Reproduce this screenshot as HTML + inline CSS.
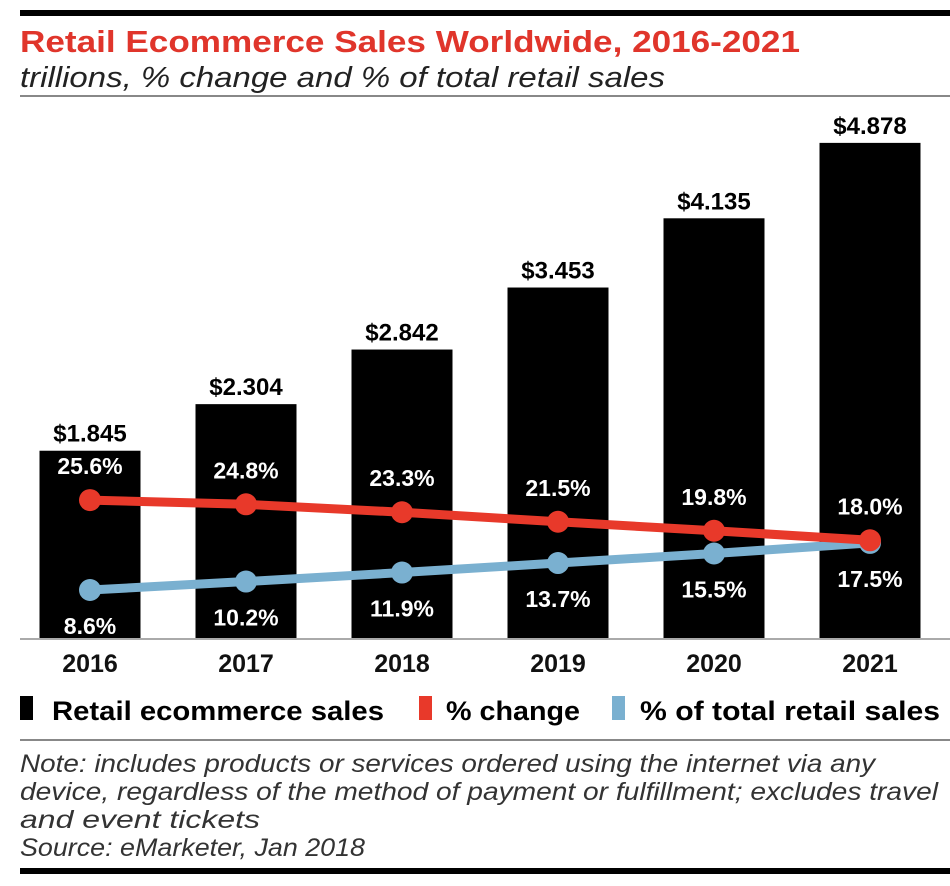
<!DOCTYPE html>
<html><head><meta charset="utf-8"><style>
html,body{margin:0;padding:0;background:#fff;width:950px;height:886px;overflow:hidden}
svg{display:block}
text{font-family:"Liberation Sans Narrow","Liberation Sans",sans-serif}
</style></head><body>
<svg id="chart" width="950" height="886" viewBox="0 0 950 886">
<rect x="20" y="10" width="930" height="6" fill="#000"/>
<text x="20" y="52" font-size="31" font-weight="bold" fill="#e0352b" textLength="780" lengthAdjust="spacingAndGlyphs">Retail Ecommerce Sales Worldwide, 2016-2021</text>
<text x="20" y="87" font-size="29" font-style="italic" fill="#222" textLength="645" lengthAdjust="spacingAndGlyphs">trillions, % change and % of total retail sales</text>
<rect x="20" y="95" width="930" height="2" fill="#888"/>
<g id="bars"></g><g id="lines"></g><g id="labels"></g>
<rect x="20" y="638" width="930" height="2" fill="#aaa"/>
<g>
<rect x="20" y="696" width="13" height="24" fill="#000"/>
<text x="52" y="720" font-size="27" font-weight="bold" textLength="332" lengthAdjust="spacingAndGlyphs">Retail ecommerce sales</text>
<rect x="419" y="696" width="13" height="24" fill="#e8392a"/>
<text x="446" y="720" font-size="27" font-weight="bold" textLength="134" lengthAdjust="spacingAndGlyphs">% change</text>
<rect x="612" y="696" width="13" height="24" fill="#7ab0d0"/>
<text x="640" y="720" font-size="27" font-weight="bold" textLength="300" lengthAdjust="spacingAndGlyphs">% of total retail sales</text>
</g>
<rect x="20" y="739" width="930" height="2" fill="#888"/>
<g font-size="25" font-style="italic" fill="#333">
<text x="20" y="772" textLength="855" lengthAdjust="spacingAndGlyphs">Note: includes products or services ordered using the internet via any</text>
<text x="20" y="800" textLength="918" lengthAdjust="spacingAndGlyphs">device, regardless of the method of payment or fulfillment; excludes travel</text>
<text x="20" y="828" textLength="240" lengthAdjust="spacingAndGlyphs">and event tickets</text>
<text x="20" y="856" textLength="345" lengthAdjust="spacingAndGlyphs">Source: eMarketer, Jan 2018</text>
</g>
<rect x="20" y="868" width="930" height="6" fill="#000"/>
</svg>
<script>
const years = ["2016","2017","2018","2019","2020","2021"];
const sales = [1.845, 2.304, 2.842, 3.453, 4.135, 4.878];
const pctChange = [25.6, 24.8, 23.3, 21.5, 19.8, 18.0];
const pctTotal = [8.6, 10.2, 11.9, 13.7, 15.5, 17.5];

const NS = "http://www.w3.org/2000/svg";
const base = 638, step = 156, x0 = 90, barW = 101;
const xPos = i => x0 + i * step;
const yBar = v => base - v * 101.5;
const yPct = v => 635.5 - v * 5.29;
function mk(tag, attrs, parent) {
  const e = document.createElementNS(NS, tag);
  for (const k in attrs) e.setAttribute(k, attrs[k]);
  parent.appendChild(e); return e;
}
const gB = document.getElementById('bars'), gL = document.getElementById('lines'), gT = document.getElementById('labels');
sales.forEach((v, i) => {
  const r = mk('rect', {x: xPos(i) - barW/2, y: yBar(v), width: barW, height: base - yBar(v), fill: '#000'}, gB);
  
  
  const t = mk('text', {x: xPos(i), y: yBar(v) - 9, 'text-anchor': 'middle', 'font-size': 24, 'font-weight': 'bold', fill: '#000'}, gT);
  t.textContent = '$' + v.toFixed(3);
  
  
  const y = mk('text', {x: xPos(i), y: 672, 'text-anchor': 'middle', 'font-size': 25, 'font-weight': 'bold', fill: '#111'}, gT);
  y.textContent = years[i];
  
  
});
function series(vals, color, name, dy) {
  const pl = mk('polyline', {points: vals.map((v, i) => xPos(i) + ',' + yPct(v)).join(' '), fill: 'none', stroke: color, 'stroke-width': 9}, gL);
  
  
  vals.forEach((v, i) => {
    const c = mk('circle', {cx: xPos(i), cy: yPct(v), r: 11, fill: color}, gL);
    
    
    const t = mk('text', {x: xPos(i), y: yPct(v) + dy, 'text-anchor': 'middle', 'font-size': 23, 'font-weight': 'bold', fill: '#fff'}, gT);
    t.textContent = v.toFixed(1) + '%';
    
    
  });
}
series(pctTotal, '#7ab0d0', 'pct-total', 44);
series(pctChange, '#e8392a', 'pct-change', -26);
</script>
</body></html>
